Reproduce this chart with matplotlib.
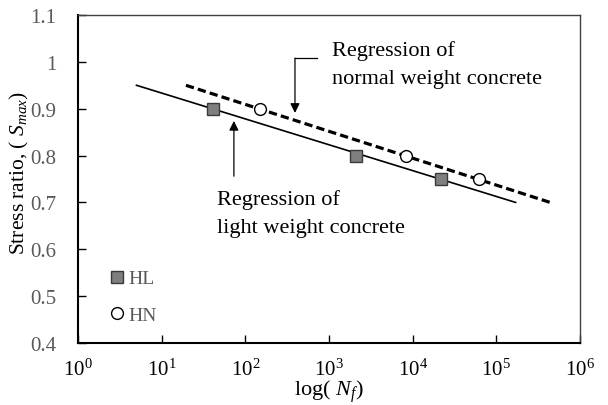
import matplotlib
matplotlib.use("Agg")
import matplotlib.pyplot as plt
import numpy as np

plt.rcParams['font.family'] = ['Liberation Serif', 'DejaVu Serif']
plt.rcParams['mathtext.fontset'] = 'custom'
plt.rcParams['mathtext.rm'] = 'Liberation Serif'
plt.rcParams['mathtext.it'] = 'Liberation Serif:italic'
plt.rcParams['mathtext.bf'] = 'Liberation Serif:bold'

# Data
hl_cycles = [41, 2100, 22000]
hl_stress = [0.90, 0.80, 0.75]
hn_cycles = [150, 8300, 62000]
hn_stress = [0.90, 0.80, 0.75]

light_reg_x = [5, 1.7e5]
light_reg_y = [0.95, 0.70]
normal_reg_x = [19.5, 4.4e5]
normal_reg_y = [0.95, 0.70]

y_ticks = [0.4, 0.5, 0.6, 0.7, 0.8, 0.9, 1.0, 1.1]
y_tick_labels = ['0.4', '0.5', '0.6', '0.7', '0.8', '0.9', '1', '1.1']
x_ticks = [1, 10, 100, 1e3, 1e4, 1e5, 1e6]
x_tick_labels = [r'$10^{0}$', r'$10^{1}$', r'$10^{2}$', r'$10^{3}$',
                 r'$10^{4}$', r'$10^{5}$', r'$10^{6}$']

# Annotation anchors (data coords)
normal_text_pos = (1083, 0.9947)
normal_arrow_tail = (392, 1.008)
normal_arrow_tip = (392, 0.891)
normal_elbow_end = (717, 1.008)
light_text_pos = (46, 0.678)
light_arrow_tail = (73, 0.756)
light_arrow_tip = (73, 0.874)

fig = plt.figure(figsize=(6.08, 4.06), dpi=100)
ax = fig.add_axes([78/608, 62/406, (580-78)/608, (344-16)/406])

ax.plot(light_reg_x, light_reg_y, color='black', lw=1.2, zorder=2)
ax.plot(normal_reg_x, normal_reg_y, color='black', lw=2.3, ls=(0, (2.6, 1.3)), zorder=2)

ax.plot(hl_cycles, hl_stress, ls='none', marker='s', ms=8.5, mfc='#7f7f7f',
        mec='#3a3a3a', mew=1.0, label='HL', zorder=3)
ax.plot(hn_cycles, hn_stress, ls='none', marker='o', ms=8.5, mfc='white',
        mec='black', mew=1.0, label='HN', zorder=3)

ax.set_xscale('log')
ax.set_xlim(1, 1e6)
ax.set_ylim(0.4, 1.1)
ax.set_xticks(x_ticks)
ax.set_xticklabels(x_tick_labels, fontsize=15, color='black')
ax.minorticks_off()
ax.set_yticks(y_ticks)
ax.set_yticklabels(y_tick_labels, fontsize=15, color='#595959')
ax.tick_params(axis='both', direction='in', length=6, width=1.0)
ax.tick_params(axis='x', pad=11)
ax.tick_params(axis='y', pad=15.4)

for s in ['left', 'bottom']:
    ax.spines[s].set_linewidth(1.5)
    ax.spines[s].set_color('black')
for s in ['top', 'right']:
    ax.spines[s].set_linewidth(1.0)
    ax.spines[s].set_color('#404040')

ax.set_ylabel(r'Stress ratio, ( $S_{max}$)', fontsize=15.5)
ax.yaxis.set_label_coords(-0.094, 0.52)
ax.set_xlabel(r'log( $N_f$)', fontsize=16, labelpad=-1.4)

ax.text(*normal_text_pos, 'Regression of\nnormal weight concrete', fontsize=16,
        ha='left', va='center', linespacing=1.62)
ax.plot([normal_arrow_tail[0], normal_elbow_end[0]],
        [normal_arrow_tail[1], normal_elbow_end[1]], color='black', lw=0.9)
ax.annotate('', xy=normal_arrow_tip, xytext=normal_arrow_tail,
            arrowprops=dict(arrowstyle='-|>', color='black', lw=0.9,
                            mutation_scale=14, shrinkA=0, shrinkB=0))

ax.text(*light_text_pos, 'Regression of\nlight weight concrete', fontsize=16,
        ha='left', va='center', linespacing=1.62)
ax.annotate('', xy=light_arrow_tip, xytext=light_arrow_tail,
            arrowprops=dict(arrowstyle='-|>', color='black', lw=0.9,
                            mutation_scale=14, shrinkA=0, shrinkB=0))

ax.legend(loc='lower left', bbox_to_anchor=(0.039, 0.016), frameon=False,
          fontsize=14, labelcolor='#595959', handlelength=0.6,
          handletextpad=0.3, labelspacing=0.98, borderpad=0.2)

fig.savefig('out.png', dpi=100)
